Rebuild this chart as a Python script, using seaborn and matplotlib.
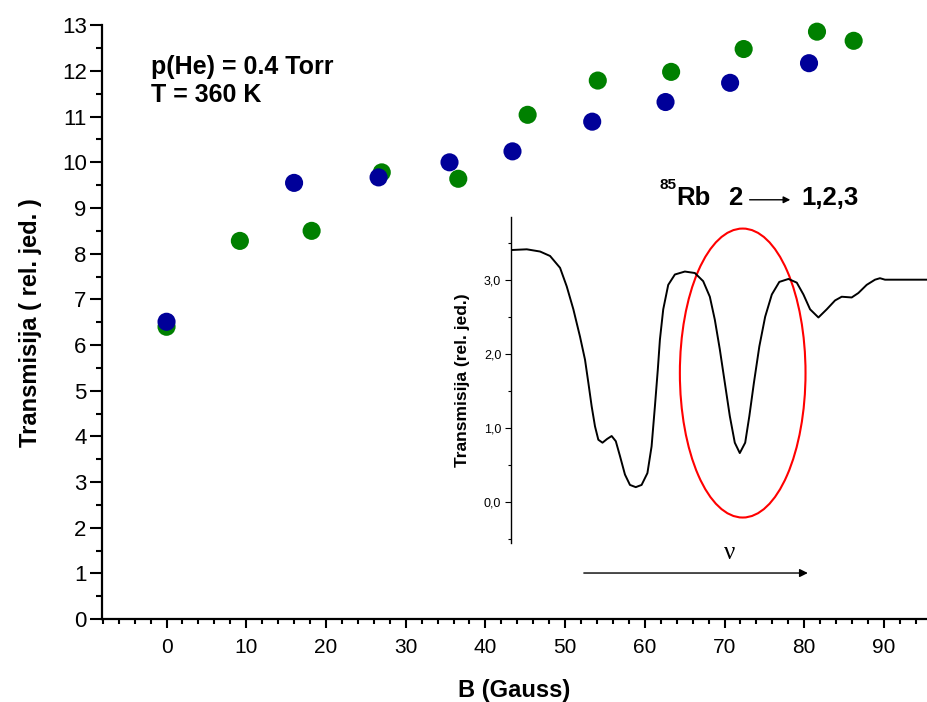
import numpy as np
import pandas as pd
import matplotlib
matplotlib.use('Agg')
import matplotlib.pyplot as plt
import seaborn as sns
from matplotlib.patches import Ellipse
from matplotlib.ticker import MultipleLocator, FixedFormatter, FixedLocator

# Podaci - zeleni niz
b_green = [0, 9.2, 18.2, 27.0, 36.6, 45.3, 54.1, 63.3, 72.4, 81.6, 86.2]
t_green = [6.40, 8.28, 8.50, 9.78, 9.64, 11.04, 11.79, 11.98, 12.48, 12.86, 12.66]

# Podaci - plavi niz
b_blue = [0, 16.0, 26.6, 35.5, 43.4, 53.4, 62.6, 70.7, 80.6]
t_blue = [6.51, 9.55, 9.67, 10.0, 10.24, 10.89, 11.32, 11.74, 12.17]

# Spektar u umetku (frekvencija u proizvoljnim jedinicama)
nu = [0, 3.8, 7.0, 9.4, 11.8, 13.4, 15.0, 16.6, 17.8, 18.6, 19.4, 20.2, 21.0, 22.0,
      23.1, 24.2, 25.2, 26.2, 27.4, 28.6, 30.0, 31.4, 32.8, 33.8, 34.6, 35.3, 35.8,
      36.6, 37.8, 39.4, 41.8, 44.2, 46.2, 47.8, 49.0, 50.2, 51.4, 52.6, 53.8, 55.0,
      56.3, 57.3, 58.4, 59.7, 61.1, 62.7, 64.5, 66.7, 68.7, 70.3, 71.9, 73.9, 75.9,
      77.9, 79.5, 81.9, 83.5, 85.5, 87.5, 88.7, 89.9, 94.3, 100]
spec = [3.40, 3.41, 3.38, 3.32, 3.16, 2.91, 2.60, 2.23, 1.92, 1.61, 1.29, 1.02, 0.84, 0.80,
        0.85, 0.89, 0.82, 0.62, 0.37, 0.23, 0.20, 0.23, 0.39, 0.75, 1.29, 1.79, 2.19,
        2.60, 2.93, 3.07, 3.11, 3.09, 2.98, 2.77, 2.46, 2.06, 1.61, 1.16, 0.80, 0.66,
        0.80, 1.16, 1.61, 2.10, 2.50, 2.80, 2.97, 3.01, 2.96, 2.80, 2.60, 2.49, 2.60,
        2.72, 2.77, 2.76, 2.82, 2.93, 3.00, 3.02, 3.00, 3.00, 3.00]

plt.rcParams['font.family'] = ['Liberation Sans', 'DejaVu Sans']

fig = plt.figure(figsize=(9.27, 7.02), dpi=100)
ax = fig.add_axes([0.110, 0.118, 0.890, 0.846])

df_g = pd.DataFrame({'B': b_green, 'T': t_green})
df_b = pd.DataFrame({'B': b_blue, 'T': t_blue})
sns.scatterplot(data=df_g, x='B', y='T', color='#008000', s=170, edgecolor='none',
                ax=ax, zorder=3, clip_on=False)
sns.scatterplot(data=df_b, x='B', y='T', color='#000099', s=170, edgecolor='none',
                ax=ax, zorder=4, clip_on=False)

ax.set_xlim(-8.1, 95.4)
ax.set_ylim(0, 13)
ax.xaxis.set_major_locator(MultipleLocator(10))
ax.xaxis.set_minor_locator(MultipleLocator(2))
ax.yaxis.set_major_locator(MultipleLocator(1))
ax.yaxis.set_minor_locator(MultipleLocator(0.5))
for s in ['top', 'right']:
    ax.spines[s].set_visible(False)
for s in ['left', 'bottom']:
    ax.spines[s].set_linewidth(1.6)
ax.tick_params(axis='x', which='major', length=6.5, width=1.5, pad=7, labelsize=15)
ax.tick_params(axis='x', which='minor', length=3.5, width=1.5)
ax.tick_params(axis='y', which='major', length=9, width=1.5, pad=2, labelsize=16)
ax.tick_params(axis='y', which='minor', length=4.5, width=1.5)
ax.set_xlabel('B (Gauss)', fontsize=17, fontweight='bold', labelpad=16)
ax.set_ylabel('Transmisija ( rel. jed. )', fontsize=17, fontweight='bold', labelpad=14)

# uvjeti mjerenja (bazna linija zadnjeg reda)
ax.text(-2.0, 11.33, 'p(He) = 0.4 Torr\nT = 360 K', fontsize=18, fontweight='bold',
        va='baseline', linespacing=1.2)

# Natpis prijelaza
ax.text(61.8, 9.5, '85', fontsize=11, fontweight='bold', va='center')
ax.text(64.0, 9.06, 'Rb', fontsize=18.5, fontweight='bold', va='baseline')
ax.text(70.5, 9.06, '2', fontsize=18.5, fontweight='bold', va='baseline')
ax.annotate('', xy=(78.6, 9.18), xytext=(72.8, 9.18),
            arrowprops=dict(arrowstyle='-|>', lw=1.0, color='black', mutation_scale=10))
ax.text(79.7, 9.06, '1,2,3', fontsize=18.5, fontweight='bold', va='baseline')

# Strelica frekvencije
ax.annotate('', xy=(80.8, 1.01), xytext=(52.0, 1.01),
            arrowprops=dict(arrowstyle='-|>', lw=1.0, color='black', mutation_scale=12))
ax.text(70.6, 1.44, '\u03bd', fontsize=18, family=['Liberation Serif', 'DejaVu Serif'],
        ha='center', va='center')

# Umetak sa spektrom
ins = fig.add_axes([0.5512, 0.2269, 0.4488, 0.4644])
ins.patch.set_alpha(0)
df_s = pd.DataFrame({'nu': nu, 'T': spec})
sns.lineplot(data=df_s, x='nu', y='T', color='black', lw=1.4, ax=ins)
ins.set_xlim(0, 100)
ins.set_ylim(-0.55, 3.85)
ins.add_patch(Ellipse((55.7, 1.74), 30.2, 3.90, fill=False, edgecolor='red', lw=1.5))
for s in ['top', 'right', 'bottom']:
    ins.spines[s].set_visible(False)
ins.spines['left'].set_linewidth(1.0)
ins.set_xticks([])
ins.set_xlabel('')
ins.yaxis.set_major_locator(FixedLocator([0, 1, 2, 3]))
ins.yaxis.set_major_formatter(FixedFormatter(['0,0', '1,0', '2,0', '3,0']))
ins.yaxis.set_minor_locator(MultipleLocator(0.5))
ins.tick_params(axis='y', which='major', length=4, width=0.8, labelsize=9, pad=3)
ins.tick_params(axis='y', which='minor', length=2.5, width=0.8)
ins.set_ylabel('Transmisija (rel. jed.)', fontsize=12.5, fontweight='bold', labelpad=10)

fig.savefig('out.png', dpi=100)
